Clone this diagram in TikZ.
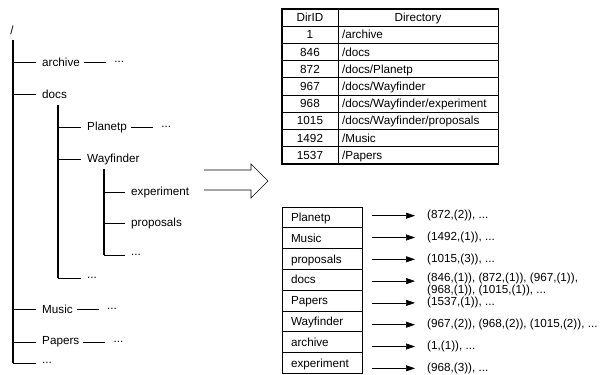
\documentclass[tikz,border=0pt]{standalone}
\usepackage{fontspec}
\setmainfont{Liberation Sans}
\usetikzlibrary{arrows.meta, positioning, calc}

\begin{document}
\begin{tikzpicture}[x=1pt, y=-1pt, >={Triangle[length=9pt,width=6pt]},
  every node/.style={font=\fontsize{11.7}{11.5}\selectfont, inner sep=0pt},
  lbl/.style={anchor=west},
  trunk/.style={line width=1.4pt},
  branch/.style={line width=0.9pt, shorten >=6.5pt},
  dashline/.style={line width=0.9pt, shorten <=4pt, shorten >=8pt},
  idcell/.style={draw, line width=0.7pt, minimum width=56pt, minimum height=17.2pt, text height=8.2pt, text depth=0pt},
  dircell/.style={draw, line width=0.7pt, text width=152pt, inner xsep=4pt, minimum height=17.2pt, text height=8.2pt, text depth=0pt, align=left},
  frame/.style={line width=1.1pt},
  keycell/.style={draw, line width=0.8pt, text width=62pt, inner xsep=9pt, minimum height=20.8pt, text height=8.2pt, text depth=0pt, align=left},
  ptr/.style={->, line width=0.7pt, shorten <=10pt, shorten >=12pt}]

\useasboundingbox (0,0) rectangle (603,375);

% Directory tree: top level
\node (root) at (12,30) {/};
\coordinate (t1) at (13,40);
\node[lbl] (archive) at (42,62) {archive};
\node[lbl] (docs) at (42,94) {docs};
\node[lbl] (music) at (42,309) {Music};
\node[lbl] (papers) at (42,342) {Papers};
\node[lbl] (more1) at (42,363) {...};
\draw[trunk] (t1) -- (t1 |- more1.west);
\foreach \i in {archive,docs,music,papers,more1} {
  \draw[branch] (t1 |- \i.west) -- (\i.west);
}

% Directory tree: docs
\coordinate (t2) at (58,105);
\node[lbl] (planetp) at (87,127) {Planetp};
\node[lbl] (wayfinder) at (87,159) {Wayfinder};
\node[lbl] (more2) at (87,278) {...};
\draw[trunk] (t2) -- (t2 |- more2.west);
\foreach \i in {planetp,wayfinder,more2} {
  \draw[branch] (t2 |- \i.west) -- (\i.west);
}

% Directory tree: Wayfinder
\coordinate (t3) at (104,169);
\node[lbl] (experiment) at (131,192) {experiment};
\node[lbl] (proposals) at (131,223) {proposals};
\node[lbl] (more3) at (131,255) {...};
\draw[trunk] (t3) -- (t3 |- more3.west);
\foreach \i in {experiment,proposals,more3} {
  \draw[branch] (t3 |- \i.west) -- (\i.west);
}

% Elided subtrees
\foreach \i in {archive,planetp,music,papers} {
  \node[lbl, right=34pt of \i] (\i dots) {...};
  \draw[dashline] (\i.east) -- (\i dots.west);
}

% Hollow arrow
\draw[line width=0.7pt] (204,170) -- (251,170) -- (251,164) -- (268,181)
  -- (251,198) -- (251,190) -- (204,190);

% Directory table
\node[idcell] (id0) at (310,17.6) {DirID};
\node[dircell, align=center] (dir0) at (418,17.6) {Directory};
\foreach \d/\n [count=\r, evaluate=\r as \y using 17.6+17.2*\r] in
  {1/{/archive}, 846/{/docs}, 872/{/docs/Planetp}, 967/{/docs/Wayfinder},
   968/{/docs/Wayfinder/experiment}, 1015/{/docs/Wayfinder/proposals},
   1492/{/Music}, 1537/{/Papers}} {
  \node[idcell] (id\r) at (310,\y) {\d};
  \node[dircell] (dir\r) at (418,\y) {\n};
}
\draw[frame] (id0.north west) rectangle (dir8.south east);
\draw[frame] (id0.south west) -- (dir0.south east);
\draw[frame] (id0.north east) -- (id8.south east);

% Inverted index
\foreach \k/\p/\s [count=\r, evaluate=\r as \ky using 196.6+20.8*\r,
    evaluate=\r as \py using 193.9+21.8*\r] in
  {Planetp/{(872,(2)), ...}/0,
   Music/{(1492,(1)), ...}/0,
   proposals/{(1015,(3)), ...}/0,
   docs/{(846,(1)), (872,(1)), (967,(1)),\\(968,(1)), (1015,(1)), ...}/3.5,
   Papers/{(1537,(1)), ...}/0,
   Wayfinder/{(967,(2)), (968,(2)), (1015,(2)), ...}/0,
   archive/{(1,(1)), ...}/0,
   experiment/{(968,(3)), ...}/0} {
  \node[keycell] (key\r) at (322,\ky) {\k};
  \coordinate (arr\r) at (427,\py);
  \node[anchor=west, align=left, yshift=-\s pt] (post\r) at (arr\r) {\p};
  \draw[ptr] (key\r.east |- arr\r) -- (arr\r);
}

\end{tikzpicture}
\end{document}
